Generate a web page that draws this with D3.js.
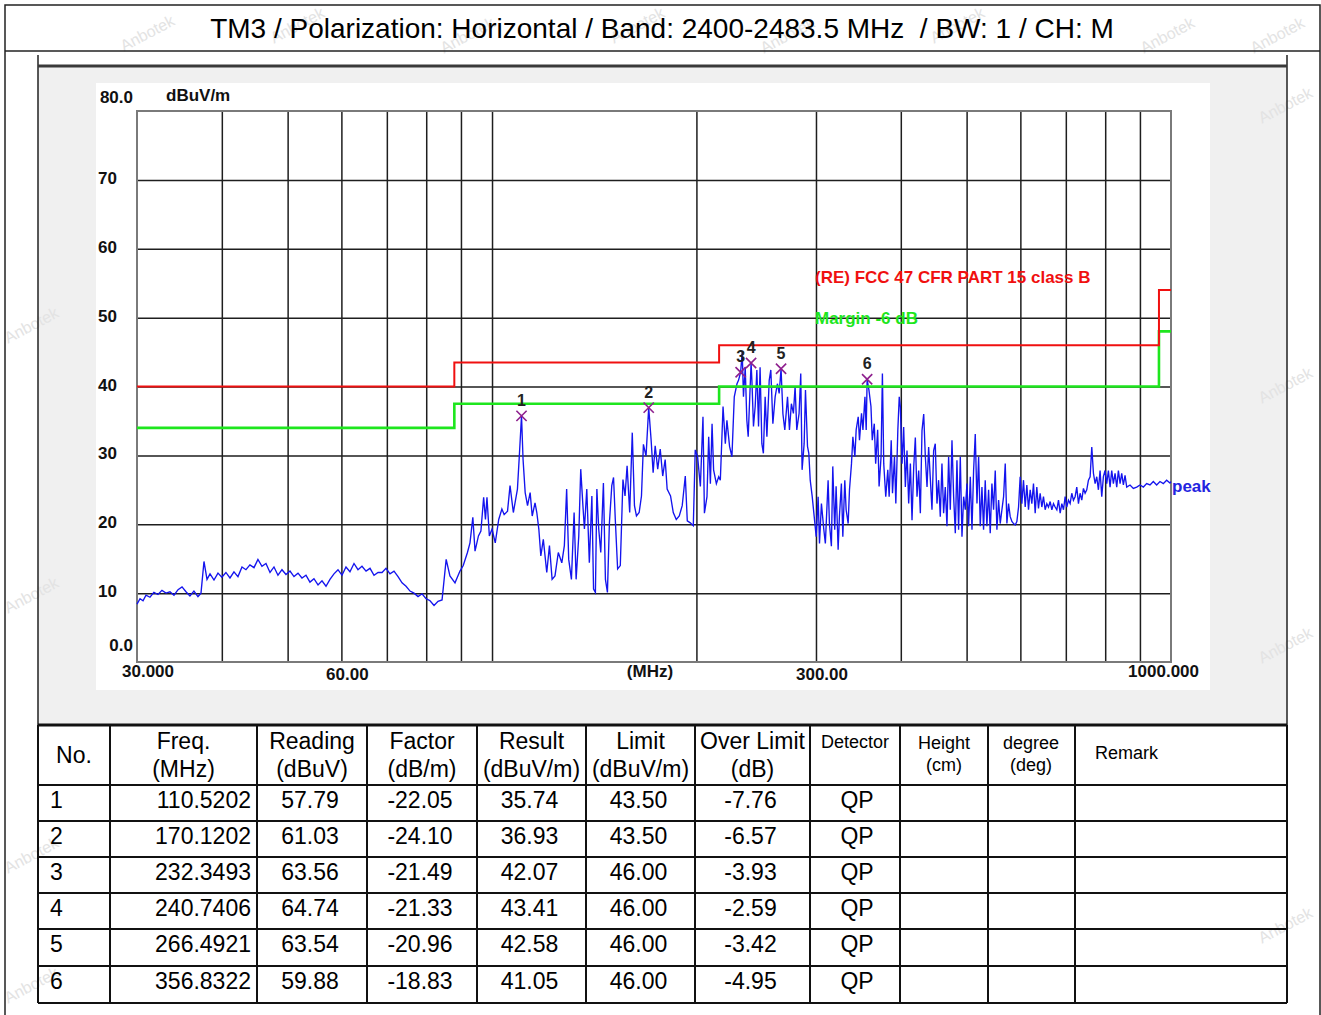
<!DOCTYPE html>
<meta charset="utf-8">
<style>
body { margin: 0; background: #fff; }
svg { display: block; font-family: "Liberation Sans", Arial, sans-serif; }
.ax { font-weight: bold; font-size: 17px; fill: #111; }
.grid line { stroke: #1e1e1e; stroke-width: 1.5; }
.grid path { display: none; }
.cell { font-size: 23px; fill: #000; }
.small { font-size: 18px; fill: #000; }
</style>
<body>
<svg width="1321" height="1015"></svg>
<script src="https://cdnjs.cloudflare.com/ajax/libs/d3/7.8.5/d3.min.js"></script>
<script>

var title = "TM3 / Polarization: Horizontal / Band: 2400-2483.5 MHz  / BW: 1 / CH: M";

// limit line (FCC part 15 class B, 3 m) and the -6 dB margin
var limitFreq  = [30, 88, 88, 216, 216, 960, 960, 1000];
var limitLevel = [40, 40, 43.5, 43.5, 46, 46, 54, 54];
var marginDb = 6;

// grid and tick labels
var xGrid = [40, 50, 60, 70, 80, 90, 100, 200, 300, 400, 500, 600, 700, 800, 900];
var yGrid = [10, 20, 30, 40, 50, 60, 70];
var xTickValues = [30, 60, 300, 1000];
var xTickText = ["30.000", "60.00", "300.00", "1000.000"];
var yTickValues = [80, 70, 60, 50, 40, 30, 20, 10, 0];
var yTickText = ["80.0", "70", "60", "50", "40", "30", "20", "10", "0.0"];

// measured points (table)
var rowNo     = [1, 2, 3, 4, 5, 6];
var rowFreq   = [110.5202, 170.1202, 232.3493, 240.7406, 266.4921, 356.8322];
var rowRead   = [57.79, 61.03, 63.56, 64.74, 63.54, 59.88];
var rowFactor = [-22.05, -24.10, -21.49, -21.33, -20.96, -18.83];
var rowResult = [35.74, 36.93, 42.07, 43.41, 42.58, 41.05];
var rowLimit  = [43.50, 43.50, 46.00, 46.00, 46.00, 46.00];
var rowOver   = [-7.76, -6.57, -3.93, -2.59, -3.42, -4.95];
var rowDet    = ["QP", "QP", "QP", "QP", "QP", "QP"];

// peak trace, [MHz, dBuV/m]
var trace = [
  [30.0,8.4],[30.31,9.2],[30.62,8.9],[30.93,9.7],[31.35,9.4],[31.77,10.1],[32.21,9.8],[32.65,10.4],
  [33.10,10.0],[33.55,10.2],[34.01,9.7],[34.48,10.5],[34.95,10.9],[35.42,10.2],[35.90,9.6],[36.39,10.3],
  [36.89,9.5],[37.27,10.0],[37.65,14.6],[38.04,12.0],[38.43,12.8],[38.95,11.9],[39.48,12.9],[40.00,12.3],
  [40.56,13.0],[41.12,12.2],[41.68,13.1],[42.25,12.4],[42.83,13.8],[43.41,13.4],[44.00,14.1],[44.61,13.7],
  [45.21,14.9],[45.83,13.9],[46.46,14.3],[47.10,13.0],[47.74,13.8],[48.39,12.6],[49.05,13.4],[49.72,12.7],
  [50.40,13.2],[51.09,12.4],[51.79,12.9],[52.49,12.2],[53.21,12.6],[53.93,11.6],[54.67,12.1],[55.43,11.2],
  [56.18,11.8],[56.95,11.0],[57.72,12.0],[58.51,12.8],[59.31,13.4],[60.12,12.6],[60.94,13.8],[61.77,13.1],
  [62.62,14.3],[63.47,13.4],[64.34,13.9],[65.23,13.2],[66.12,13.6],[67.02,12.6],[67.94,13.0],[68.87,13.0],
  [69.80,13.6],[70.75,12.8],[71.72,13.2],[72.71,12.4],[73.70,11.5],[74.71,11.0],[75.72,10.3],[76.76,10.0],
  [77.81,9.5],[78.88,9.9],[79.95,9.2],[81.04,8.9],[82.15,8.2],[83.27,8.8],[84.41,9.0],
  [85.6,14.9],[86.7,12.5],[88.2,11.5],[89.7,13.2],[90.7,14.0],[92.0,15.9],[92.8,17.3],[93.7,21.0],
  [94.4,16.1],[95.5,18.3],[96.3,19.0],[97.2,23.9],[97.8,20.7],[98.3,23.9],[99.1,18.3],[100.0,19.3],
  [101.1,17.3],[102.3,20.7],[103.4,22.2],[104.2,21.4],[105.4,21.9],[106.3,25.6],[107.5,21.7],[109.0,25.1],
  [109.7,29.9],[110.52,35.74],[111.1,29.4],[111.9,24.6],[112.8,22.7],[113.8,24.6],[114.6,21.2],[115.7,23.1],
  [116.4,21.7],[117.2,19.3],[118.0,15.4],[119.0,17.8],[120.4,13.0],[121.5,16.9],[122.6,12.0],[123.8,12.5],
  [125.2,15.9],[126.7,14.4],[127.8,16.9],[128.8,25.1],[129.7,14.9],[130.9,12.0],[132.1,21.7],[133.0,12.0],
  [134.2,18.3],[135.1,28.0],[136.1,22.7],[136.8,19.3],[137.9,25.1],[139.1,14.4],[140.3,24.1],[141.1,10.6],
  [142.0,10.1],[142.7,25.1],[143.6,19.3],[144.6,15.9],[145.9,26.0],[146.9,12.0],[147.9,10.1],[148.9,20.2],
  [150.1,25.6],[151.0,26.8],[151.9,20.7],[153.1,13.5],[154.5,14.0],[155.9,26.5],[157.0,24.1],[158.1,28.5],
  [159.5,21.7],[160.9,33.3],[162.1,22.7],[163.2,21.2],[164.7,21.7],[166.0,24.1],[167.1,31.6],[168.6,29.9],
  [170.12,36.93],[171.5,32.3],[172.7,27.5],[173.9,31.4],[175.4,28.0],[176.9,30.9],[178.4,27.0],[179.9,29.4],
  [181.1,25.1],[183.2,24.1],[184.9,21.7],[186.8,20.7],[188.7,21.2],[190.6,22.7],[192.6,27.0],[193.9,20.5],
  [195.9,20.2],[197.9,19.8],[199.2,30.8],[200.8,29.8],[202.7,25.5],[204.5,35.6],[205.5,21.6],[207.3,24.0],
  [208.5,32.7],[209.7,25.9],[210.9,34.6],[212.0,27.9],[214.0,25.9],[215.7,26.9],[216.9,26.4],[218.9,37.1],
  [220.6,31.7],[221.8,35.1],[223.8,31.3],[225.6,29.8],[227.4,38.5],[229.5,40.4],[230.7,40.9],[232.35,42.07],
  [233.6,45.0],[234.6,38.5],[236.0,42.8],[237.3,35.1],[238.4,32.7],[240.74,43.41],[241.4,40.9],[242.7,34.2],
  [244.1,37.1],[245.5,42.4],[246.9,34.2],[248.2,42.8],[249.7,31.7],[251.0,30.3],[252.5,38.5],[254.0,32.7],
  [256.0,40.9],[257.4,42.4],[259.2,34.6],[261.2,38.5],[263.2,40.4],[264.8,39.0],[266.49,42.58],[268.2,36.0],
  [269.9,33.7],[272.4,38.5],[274.2,33.7],[276.0,37.5],[277.9,36.1],[279.5,40.0],[281.1,33.7],[283.3,36.1],
  [284.9,41.9],[286.2,27.9],[288.2,31.7],[289.5,39.5],[291.5,31.3],[292.8,30.3],[294.2,26.4],[296.2,24.0],
  [298.2,21.1],[300.2,18.2],[302.2,24.0],[303.6,17.2],[305.6,23.0],[308.1,19.2],[309.7,17.2],[312.6,26.4],
  [314.0,20.1],[316.1,16.8],[317.6,28.4],[319.7,19.2],[321.2,25.5],[323.4,16.3],[324.8,21.1],[327.0,25.9],
  [328.6,18.2],[330.8,26.4],[332.3,22.1],[334.6,20.1],[336.1,25.0],[338.4,28.8],[340.0,32.7],[342.3,29.8],
  [343.8,33.7],[346.2,35.6],[347.7,32.2],[350.1,36.1],[351.8,33.7],[354.2,38.5],[355.7,33.7],[356.83,41.05],
  [359.0,39.5],[361.5,37.1],[363.1,32.2],[365.6,34.6],[367.3,28.8],[369.8,33.7],[371.6,25.5],[374.1,29.8],
  [375.8,41.9],[377.5,28.8],[380.1,24.0],[382.7,27.9],[384.5,24.0],[387.2,32.2],[388.9,24.5],[391.5,29.8],
  [393.3,23.0],[396.0,33.7],[397.9,38.5],[399.4,37.0],[401.7,28.8],[403.9,34.1],[406.2,25.4],[408.5,30.7],
  [410.8,23.0],[413.2,28.8],[415.5,20.6],[417.9,28.3],[420.2,32.6],[422.6,24.0],[425.0,27.8],[427.4,21.6],
  [429.8,33.6],[432.3,36.0],[434.7,29.8],[437.2,25.4],[439.6,31.2],[444.6,22.1],[447.1,30.7],[449.6,31.7],
  [452.2,23.0],[454.7,26.4],[457.3,21.1],[459.9,28.8],[462.5,21.6],[465.1,25.4],[467.8,19.7],[470.4,29.8],
  [473.1,22.1],[475.8,32.2],[478.5,24.0],[481.2,18.7],[483.9,29.3],[486.6,19.2],[489.4,29.8],[492.2,18.2],
  [495.0,24.0],[497.8,22.1],[500.6,25.9],[503.4,19.7],[506.3,26.9],[509.2,19.2],[512.0,27.8],[514.9,33.1],
  [517.9,23.0],[520.8,29.8],[523.7,19.7],[526.7,25.4],[529.6,19.2],[532.6,26.4],[535.6,19.7],[538.7,25.0],
  [541.7,18.7],[544.8,25.9],[547.9,22.1],[551.0,27.8],[554.1,19.2],[557.3,23.5],[560.4,20.1],[563.6,22.1],
  [566.8,24.0],[570.0,28.8],[573.2,20.1],[576.4,23.0],[579.7,21.1],[583.0,20.4],[586.3,20.1],[589.6,19.9],
  [592.9,20.4],[596.3,22.5],[599.6,26.9],[603.0,23.0],[606.4,26.4],[609.9,22.5],[613.3,25.7],[616.8,22.1],
  [620.3,25.0],[623.8,23.0],[627.3,25.9],[630.9,21.6],[634.4,25.4],[638.0,22.3],[641.6,24.5],[645.3,22.5],
  [648.9,24.0],[652.6,22.1],[656.3,23.0],[660.0,22.5],[663.8,23.3],[667.6,22.1],[671.3,23.0],[675.1,22.5],
  [679.0,22.1],[682.8,23.5],[686.7,21.6],[690.6,23.0],[694.5,22.1],[698.4,24.0],[702.3,22.5],[706.3,23.5],
  [710.3,23.0],[714.3,24.5],[718.3,23.5],[722.4,24.0],[726.5,25.4],[730.6,23.0],[734.7,24.5],[738.9,23.5],
  [743.1,25.2],[747.3,24.5],[751.5,25.0],[755.8,26.4],[760.1,26.9],[764.4,31.2],[768.7,27.4],[773.1,25.9],
  [777.4,26.9],[781.8,25.0],[786.2,27.8],[790.7,24.0],[795.1,26.9],[799.6,27.8],[804.2,25.9],[808.7,27.8],
  [813.3,25.4],[817.9,27.8],[822.5,25.9],[827.2,27.4],[831.9,25.4],[836.6,27.8],[841.4,25.9],[846.1,27.4],
  [850.9,25.7],[855.7,27.1],[860.6,25.4],[870.3,25.7],[880.2,25.2],[890.2,25.4],[900.3,25.7],[910.5,25.4],
  [920.8,25.9],[931.3,25.7],[941.8,26.2],[952.5,25.7],[963.3,26.2],[974.2,25.9],[985.3,26.4],[996.5,26.0],
  [1000,26.2]
];

// faint report watermark spots
var wmarkX = [150, 300, 470, 640, 790, 960, 1170, 1280, 34, 34, 34, 34, 1288, 1288, 1288, 1288];
var wmarkY = [38, 30, 40, 30, 40, 30, 40, 40, 330, 600, 860, 990, 110, 390, 650, 930];

var svg = d3.select("svg");

var x = d3.scaleLog().domain([30, 1000]).range([137, 1171]);
var y = d3.scaleLinear().domain([0, 80]).range([662, 111]);

// page frame
svg.append("rect").attr("width", 1321).attr("height", 1015).attr("fill", "#fff");
svg.append("rect").attr("x", 38).attr("y", 66).attr("width", 1249).attr("height", 658).attr("fill", "#f0f0f0");
svg.append("rect").attr("x", 96).attr("y", 83).attr("width", 1114).attr("height", 607).attr("fill", "#fff");

// watermark
svg.append("g").selectAll("text")
  .data(wmarkX)
  .enter().append("text")
    .attr("transform", function(d, i) { return "translate(" + d + "," + wmarkY[i] + ") rotate(-28)"; })
    .attr("text-anchor", "middle")
    .style("font-size", "16px")
    .style("fill", "#e3e3e3")
    .text("Anbotek");

var frame = svg.append("g").attr("stroke", "#222").attr("fill", "none");
frame.append("path").attr("d", "M5,1015V5H1320V1015").attr("stroke-width", 1.5);
frame.append("path").attr("d", "M5,51H1320").attr("stroke-width", 1.5);
frame.append("path").attr("d", "M38,55V1003M1287,55V1003").attr("stroke-width", 1.5);
frame.append("path").attr("d", "M38,66H1287").attr("stroke-width", 3).attr("stroke", "#3a3a3a");

svg.append("text")
    .attr("x", 662).attr("y", 38)
    .attr("text-anchor", "middle")
    .style("font-size", "28px")
    .style("white-space", "pre")
    .text(title);

// grid
svg.append("g")
    .attr("class", "grid")
    .attr("transform", "translate(0,662)")
    .call(d3.axisBottom(x).tickValues(xGrid).tickSize(-551).tickFormat(""));
svg.append("g")
    .attr("class", "grid")
    .attr("transform", "translate(137,0)")
    .call(d3.axisLeft(y).tickValues(yGrid).tickSize(-1034).tickFormat(""));
svg.append("rect")
    .attr("x", x(30)).attr("y", y(80))
    .attr("width", x(1000) - x(30)).attr("height", y(0) - y(80))
    .attr("fill", "none").attr("stroke", "#7a7a7a").attr("stroke-width", 2);

// axis labels
svg.append("g").selectAll("text")
  .data(yTickValues)
  .enter().append("text")
    .attr("class", "ax")
    .attr("x", function(d, i) { return (i == 0 || d == 0) ? 133 : 98; })
    .attr("y", function(d, i) { return i == 0 ? y(d) - 8 : d == 0 ? y(d) - 11 : y(d) + 4; })
    .attr("text-anchor", function(d, i) { return (i == 0 || d == 0) ? "end" : "start"; })
    .text(function(d, i) { return yTickText[i]; });

svg.append("g").selectAll("text")
  .data(xTickValues)
  .enter().append("text")
    .attr("class", "ax")
    .attr("x", function(d, i) { return i == 0 ? x(d) - 15 : i == xTickValues.length - 1 ? x(d) + 28 : x(d) + 6; })
    .attr("y", function(d, i) { return (i == 0 || i == xTickValues.length - 1) ? 677 : 680; })
    .attr("text-anchor", function(d, i) { return i == 0 ? "start" : i == xTickValues.length - 1 ? "end" : "middle"; })
    .text(function(d, i) { return xTickText[i]; });

svg.append("text").attr("class", "ax").attr("x", 650).attr("y", 677).attr("text-anchor", "middle").text("(MHz)");
svg.append("text").attr("class", "ax").attr("x", 166).attr("y", 101).text("dBuV/m");

// trace
var line = d3.line()
    .x(function(d) { return x(d[0]); })
    .y(function(d) { return y(d[1]); });

svg.append("path")
    .datum(trace)
    .attr("d", line)
    .attr("fill", "none")
    .attr("stroke", "#1414ee")
    .attr("stroke-width", 1.35);

// limit and margin
var limitPts = limitFreq.map(function(f, i) { return [f, limitLevel[i]]; });
var marginPts = limitFreq.map(function(f, i) { return [f, limitLevel[i] - marginDb]; });

svg.append("path").datum(marginPts).attr("d", line)
    .attr("fill", "none").attr("stroke", "#1ee61e").attr("stroke-width", 2.6);
svg.append("path").datum(limitPts).attr("d", line)
    .attr("fill", "none").attr("stroke", "#f01010").attr("stroke-width", 2);

svg.append("text").attr("class", "ax").attr("x", 815).attr("y", 283)
    .style("fill", "#f01010").text("(RE) FCC 47 CFR PART 15 class B");
svg.append("text").attr("class", "ax").attr("x", 815).attr("y", 324)
    .style("fill", "#1ee61e").text("Margin -6 dB");
svg.append("text").attr("class", "ax").attr("x", 1172).attr("y", 492)
    .style("fill", "#2424e0").text("peak");

// markers
var mk = svg.append("g").selectAll("g")
  .data(rowNo)
  .enter().append("g")
    .attr("transform", function(d, i) { return "translate(" + x(rowFreq[i]) + "," + y(rowResult[i]) + ")"; });

mk.append("path")
    .attr("d", d3.symbol().type(d3.symbolX).size(70))
    .attr("fill", "none")
    .attr("stroke", "#8e1f8e")
    .attr("stroke-width", 1.6);

mk.append("text")
    .attr("y", -10)
    .attr("text-anchor", "middle")
    .style("font-weight", "bold")
    .style("font-size", "16px")
    .style("fill", "#222")
    .text(function(d) { return d; });

// table
var colX = [38, 110, 257, 367, 477, 586, 695, 810, 900, 988, 1075, 1287];
var rowY = [725, 785, 821, 857, 893, 929, 966, 1003];
var tbl = svg.append("g");

tbl.selectAll("line.h")
  .data(rowY)
  .enter().append("line")
    .attr("x1", 38).attr("x2", 1287)
    .attr("y1", function(d) { return d; }).attr("y2", function(d) { return d; })
    .attr("stroke", "#111").attr("stroke-width", function(d, i) { return i == 0 ? 3 : 2; });
tbl.selectAll("line.v")
  .data(colX)
  .enter().append("line")
    .attr("x1", function(d) { return d; }).attr("x2", function(d) { return d; })
    .attr("y1", 725).attr("y2", 1003)
    .attr("stroke", "#111").attr("stroke-width", 2);

var head = [
  ["Freq.", "(MHz)"], ["Reading", "(dBuV)"], ["Factor", "(dB/m)"], ["Result", "(dBuV/m)"],
  ["Limit", "(dBuV/m)"], ["Over Limit", "(dB)"]
];
tbl.append("text").attr("class", "cell").attr("x", 74).attr("y", 763).attr("text-anchor", "middle").text("No.");
head.forEach(function(h, i) {
  var cx = (colX[i + 1] + colX[i + 2]) / 2;
  tbl.append("text").attr("class", "cell").attr("x", cx).attr("y", 749).attr("text-anchor", "middle").text(h[0]);
  tbl.append("text").attr("class", "cell").attr("x", cx).attr("y", 777).attr("text-anchor", "middle").text(h[1]);
});
tbl.append("text").attr("class", "small").attr("x", 855).attr("y", 748).attr("text-anchor", "middle").text("Detector");
tbl.append("text").attr("class", "small").attr("x", 944).attr("y", 749).attr("text-anchor", "middle").text("Height");
tbl.append("text").attr("class", "small").attr("x", 944).attr("y", 771).attr("text-anchor", "middle").text("(cm)");
tbl.append("text").attr("class", "small").attr("x", 1031).attr("y", 749).attr("text-anchor", "middle").text("degree");
tbl.append("text").attr("class", "small").attr("x", 1031).attr("y", 771).attr("text-anchor", "middle").text("(deg)");
tbl.append("text").attr("class", "small").attr("x", 1095).attr("y", 759).text("Remark");

var rows = tbl.selectAll("g.row")
  .data(rowNo)
  .enter().append("g")
    .attr("transform", function(d, i) { return "translate(0," + (rowY[i + 1] + 23) + ")"; });

rows.append("text").attr("class", "cell").attr("x", 50).text(function(d) { return d; });
rows.append("text").attr("class", "cell").attr("x", 251).attr("text-anchor", "end")
    .text(function(d, i) { return rowFreq[i].toFixed(4); });
var cols = [rowRead, rowFactor, rowResult, rowLimit, rowOver];
cols.forEach(function(c, j) {
  rows.append("text").attr("class", "cell")
      .attr("x", (colX[j + 2] + colX[j + 3]) / 2 - 2)
      .attr("text-anchor", "middle")
      .text(function(d, i) { return c[i].toFixed(2); });
});
rows.append("text").attr("class", "cell").attr("x", 857).attr("text-anchor", "middle")
    .text(function(d, i) { return rowDet[i]; });

</script>
</body>
